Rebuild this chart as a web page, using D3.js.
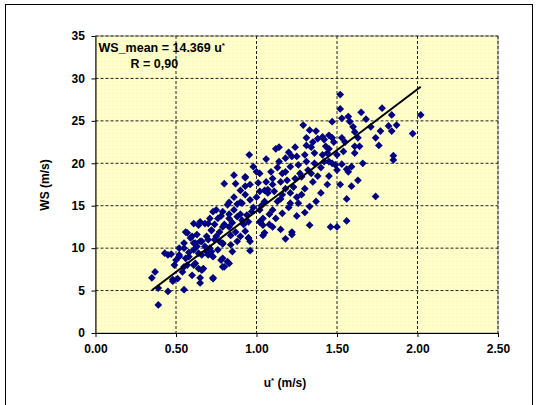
<!DOCTYPE html>
<html>
<head>
<meta charset="utf-8">
<script src="https://cdn.jsdelivr.net/npm/d3@7"></script>
<style>
  body { margin: 0; background: #fff; }
  text { font-family: "Liberation Sans", Arial, sans-serif; font-weight: bold; }
</style>
</head>
<body>
<div id="chart"></div>
<script>
// data: u* (m/s) and WS (m/s)
const uStar = [
  1.52,1.52,1.65,1.78,1.84,2.02,1.53,1.57,1.58,1.68,1.60,1.71,1.82,1.87,1.84,1.77,1.97,1.61,1.63,1.74,
  1.53,1.61,1.64,1.76,1.54,1.61,1.85,1.47,1.29,1.33,1.37,1.45,1.41,1.31,1.38,1.47,1.24,1.31,1.34,1.14,
  1.12,1.43,1.45,0.955,1.22,1.18,1.41,1.50,1.53,1.56,1.59,1.57,1.66,1.85,1.63,1.59,1.56,1.74,1.56,0.93,
  1.02,1.09,1.16,1.21,1.26,1.31,1.36,1.45,1.49,1.01,1.06,1.10,1.15,1.19,1.24,1.28,1.34,1.44,1.02,1.07,
  1.11,1.16,1.21,1.28,0.93,0.91,0.96,1.05,1.13,1.21,1.26,1.33,1.02,1.10,1.16,0.94,0.91,1.02,1.10,1.22,
  1.33,1.46,1.50,0.98,1.14,0.86,0.80,0.87,0.73,0.82,0.86,0.61,0.65,0.68,0.56,0.72,0.79,0.83,0.77,0.87,
  0.43,0.47,0.37,0.35,0.39,0.39,0.45,0.48,0.49,0.52,0.56,0.54,0.55,0.59,0.61,0.62,0.60,0.65,0.67,0.64,
  0.69,0.71,0.73,0.78,0.82,0.80,0.84,0.77,0.66,0.62,0.69,0.75,0.96,0.96,1.04,1.18,1.22,
  0.75,0.78,0.80,0.83,0.85,0.88,0.90,0.92,0.84,0.88,0.93,0.95,0.70,0.68,0.73,0.76,0.79,0.66,0.63,0.58,
  0.55,0.52,0.50,0.57,0.74,0.71,0.86,0.90,0.93,0.96,0.98,1.00,1.03,1.05,1.08,1.12,1.15,1.18,1.20,1.23,
  1.25,1.27,1.30,1.32,1.35,1.38,1.40,1.42,1.44,1.47,1.36,1.30,1.25,1.20,1.18,1.10,1.13,1.06,1.00,1.04,
  1.08,1.15,1.25,1.30,1.37,1.40,1.45,1.50,1.52,1.55,1.48,1.42,1.35,
  0.93,1.07,0.83,0.90,0.97,0.79,0.88,0.95,0.76,0.70,0.64,0.72,0.83,0.90,0.95,1.05,1.04,1.02,
  0.57,0.60,0.63,0.55,0.61,0.65,0.74,0.79,0.85,0.52,0.58,0.64,0.70,0.72,0.79,0.83,0.79,0.45,
  0.55,0.61,0.66,0.51,0.73,0.48,0.65
];
const windSpeed = [
  28.1,26.4,26.0,26.5,25.7,25.7,25.3,25.5,24.9,25.2,24.3,24.3,24.4,24.5,23.8,23.8,23.5,23.7,23.0,23.0,
  23.0,22.0,22.0,22.1,21.4,21.2,20.9,24.9,24.5,23.9,23.8,23.3,23.1,23.0,22.9,23.0,21.9,22.1,21.9,21.9,
  21.7,22.0,21.7,21.0,20.8,20.6,21.0,21.0,19.9,19.3,19.6,19.0,20.0,20.4,18.0,17.3,15.8,16.1,13.2,18.4,
  18.8,19.0,18.8,19.6,19.8,20.2,20.0,20.2,19.8,17.7,17.8,17.5,17.8,18.0,18.2,18.4,18.8,17.5,16.7,16.5,
  16.7,16.3,16.5,16.3,17.3,15.3,15.7,15.5,15.5,15.3,15.3,14.9,14.5,14.5,14.1,13.9,13.3,13.1,12.5,11.9,
  12.7,12.5,12.5,19.6,20.2,18.6,17.6,17.6,14.3,15.1,14.5,12.9,13.1,12.9,11.9,12.1,12.5,13.5,11.9,11.9,
  9.4,9.3,7.2,6.5,5.3,3.3,4.9,6.3,8.0,10.0,8.8,7.2,5.1,11.2,9.8,8.2,6.8,6.5,7.6,7.6,
  9.6,10.0,6.5,8.6,8.4,7.8,10.4,10.8,10.8,10.6,11.4,11.4,10.8,9.7,11.5,11.1,11.6,
  14.5,13.8,12.8,14.0,13.0,15.2,14.0,12.8,11.5,10.8,12.0,11.2,11.0,10.2,9.0,9.8,10.5,9.2,10.2,9.5,
  10.0,9.0,8.6,8.0,12.8,13.5,16.0,16.8,16.3,17.5,14.8,16.0,15.0,16.8,14.0,13.5,15.8,17.0,14.8,17.2,
  16.0,18.8,17.0,19.2,17.8,18.5,19.5,20.2,21.2,20.0,21.2,21.0,20.8,21.3,19.0,18.2,19.5,20.5,19.0,13.5,
  12.8,12.2,13.8,14.2,15.5,16.5,18.5,19.2,17.5,22.5,22.5,22.8,22.5,
  18.3,16.9,15.4,15.4,14.3,14.3,13.7,13.1,13.5,12.9,12.7,12.1,12.5,11.4,11.2,11.8,12.7,13.1,
  11.8,11.4,11.6,10.6,10.6,10.8,11.0,10.6,9.6,9.2,9.0,9.4,9.2,9.6,8.8,8.2,7.8,9.2,
  7.8,8.0,7.4,6.4,6.4,6.1,5.9
];
const slope = 14.369;
const fitRange = [0.35, 2.02];
const xTicks = [0, 0.5, 1, 1.5, 2, 2.5];
const yTicks = [0, 5, 10, 15, 20, 25, 30, 35];

const W = 539, H = 405;
const margin = {top: 36, right: 41, bottom: 72, left: 95.5};
const width = W - margin.left - margin.right,
      height = H - margin.top - margin.bottom;

const root = d3.select("#chart").append("svg")
    .attr("width", W)
    .attr("height", H);

// outer frame
root.append("rect")
    .attr("x", 5.5).attr("y", 4.5)
    .attr("width", 527).attr("height", 420)
    .attr("fill", "none")
    .attr("stroke", "#000")
    .attr("stroke-width", 1);

const defs = root.append("defs");
const pat = defs.append("pattern")
    .attr("id", "dots")
    .attr("width", 4).attr("height", 4)
    .attr("patternUnits", "userSpaceOnUse");
pat.append("rect").attr("width", 4).attr("height", 4).attr("fill", "#ffffcc");
pat.append("rect").attr("x", 1).attr("y", 1).attr("width", 1).attr("height", 1).attr("fill", "#f4f0a0");

const svg = root.append("g")
    .attr("transform", "translate(" + margin.left + "," + margin.top + ")");

const x = d3.scaleLinear().domain([0, 2.5]).range([0, width]);
const y = d3.scaleLinear().domain([0, 35]).range([height, 0]);

svg.append("rect")
    .attr("width", width).attr("height", height)
    .attr("fill", "url(#dots)")
    .attr("stroke", "#999")
    .attr("stroke-width", 1);

// gridlines
svg.selectAll(".vgrid")
    .data(xTicks.slice(1))
    .enter().append("line")
    .attr("x1", d => x(d)).attr("x2", d => x(d))
    .attr("y1", 0).attr("y2", height)
    .attr("stroke", "#222")
    .attr("stroke-dasharray", "3,2");

svg.selectAll(".hgrid")
    .data(yTicks.slice(1))
    .enter().append("line")
    .attr("x1", 0).attr("x2", width)
    .attr("y1", d => y(d)).attr("y2", d => y(d))
    .attr("stroke", "#222")
    .attr("stroke-dasharray", "3,2");

// axes
const xAxis = svg.append("g")
    .attr("transform", "translate(0," + height + ")")
    .call(d3.axisBottom(x).tickValues(xTicks).tickFormat(d3.format(".2f")).tickSize(4).tickSizeOuter(0));
const yAxis = svg.append("g")
    .call(d3.axisLeft(y).tickValues(yTicks).tickSize(4).tickSizeOuter(0));

[xAxis, yAxis].forEach(function(a) {
    a.select(".domain").attr("stroke", "#000");
    a.selectAll("text").attr("font-size", 12).attr("fill", "#000")
        .style("font-family", "'Liberation Sans', Arial, sans-serif").style("font-weight", "bold");
});
xAxis.selectAll("text").attr("dy", "1.1em");
yAxis.selectAll("text").attr("dx", "-0.3em");

// points
const pts = uStar.map((u, i) => ({u: u, ws: windSpeed[i]}));
svg.selectAll(".pt")
    .data(pts)
    .enter().append("path")
    .attr("d", d3.symbol(d3.symbolSquare, 30))
    .attr("transform", d => "translate(" + x(d.u) + "," + y(d.ws) + ") rotate(45)")
    .attr("fill", "#000080");

// fitted line
svg.append("line")
    .attr("x1", x(fitRange[0])).attr("y1", y(slope * fitRange[0]))
    .attr("x2", x(fitRange[1])).attr("y2", y(slope * fitRange[1]))
    .attr("stroke", "#000")
    .attr("stroke-width", 2);

// annotation
const ann = svg.append("text").attr("x", 3).attr("y", 16).attr("font-size", 12.5);
ann.append("tspan").text("WS_mean = 14.369 u");
ann.append("tspan").attr("font-size", 8).attr("dy", -4).text("*");
svg.append("text").attr("x", 35).attr("y", 32).attr("font-size", 12.5).text("R = 0,90");

// axis titles
const xt = root.append("text")
    .attr("x", 285).attr("y", 387)
    .attr("text-anchor", "middle")
    .attr("font-size", 12);
xt.append("tspan").text("u");
xt.append("tspan").attr("font-size", 8).attr("dy", -4).text("*");
xt.append("tspan").attr("dy", 4).text(" (m/s)");

root.append("text")
    .attr("transform", "translate(49,185) rotate(-90)")
    .attr("text-anchor", "middle")
    .attr("font-size", 12)
    .text("WS (m/s)");
</script>
</body>
</html>
